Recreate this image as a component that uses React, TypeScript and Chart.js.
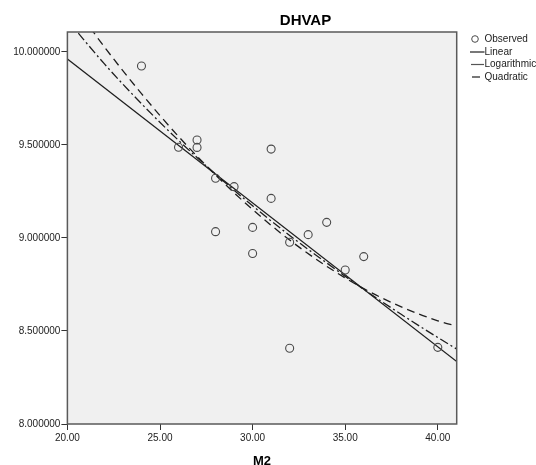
import React, { useEffect, useRef } from "react";
import { Chart, registerables } from "chart.js";

Chart.register(...registerables);

const chartTitle = "DHVAP";
const xAxisTitle = "M2";

const observedX = [24, 26, 27, 27, 28, 28, 29, 30, 30, 31, 31, 32, 32, 33, 34, 35, 36, 40];
const observedY = [9.925, 9.488, 9.527, 9.487, 9.321, 9.034, 9.276, 9.057, 8.917, 9.478, 9.213, 8.977, 8.407, 9.018, 9.084, 8.828, 8.9, 8.412];

const linearX = [20, 41.1];
const linearY = [9.962, 8.33];

const logX = [20, 22, 24, 26, 28, 30, 32, 34, 36, 38, 40, 41.1];
const logY = [10.171, 9.936, 9.722, 9.525, 9.343, 9.173, 9.014, 8.866, 8.724, 8.591, 8.465, 8.398];

const quadX = [20, 22, 24, 26, 28, 30, 32, 34, 36, 38, 40, 41.1];
const quadY = [10.301, 10.027, 9.776, 9.546, 9.339, 9.153, 8.989, 8.848, 8.728, 8.631, 8.555, 8.524];

const xTicks = [20, 25, 30, 35, 40];
const yTicks = [8.0, 8.5, 9.0, 9.5, 10.0];

const FONT = "'Liberation Sans', Arial, sans-serif";

const pairs = (xs: number[], ys: number[]) => xs.map((x, i) => ({ x, y: ys[i] }));

const decorPlugin = {
  id: "decor",
  beforeDatasetsDraw(chart: any) {
    const { ctx, chartArea } = chart;
    ctx.save();
    ctx.fillStyle = "#f0f0f0";
    ctx.fillRect(chartArea.left, chartArea.top, chartArea.right - chartArea.left, chartArea.bottom - chartArea.top);
    ctx.restore();
  },
  afterDraw(chart: any) {
    const { ctx, chartArea } = chart;
    ctx.save();
    // frame
    ctx.strokeStyle = "#5a5a5a";
    ctx.lineWidth = 1.5;
    ctx.strokeRect(chartArea.left, chartArea.top, chartArea.right - chartArea.left, chartArea.bottom - chartArea.top);

    // title
    ctx.fillStyle = "#000";
    ctx.font = `bold 15px ${FONT}`;
    ctx.textAlign = "center";
    ctx.textBaseline = "alphabetic";
    ctx.fillText(chartTitle, 305.5, 25);

    // x axis title
    ctx.font = `bold 13px ${FONT}`;
    ctx.fillText(xAxisTitle, (chartArea.left + chartArea.right) / 2, 464.5);

    // legend
    const ds = chart.data.datasets;
    const rowY = [39, 52, 64.5, 77];
    ctx.font = `10px ${FONT}`;
    ctx.textAlign = "left";
    ctx.textBaseline = "middle";
    ds.forEach((d: any, i: number) => {
      const y = rowY[i];
      ctx.strokeStyle = d.borderColor;
      ctx.lineWidth = d.type === "scatter" ? 1 : 1.2;
      if (d.type === "scatter") {
        ctx.beginPath();
        ctx.arc(475, y, 3.3, 0, Math.PI * 2);
        ctx.stroke();
      } else {
        ctx.setLineDash([]);
        ctx.beginPath();
        if (d.borderDash && d.borderDash.length === 2) {
          ctx.moveTo(472, y);
          ctx.lineTo(480, y);
        } else if (d.borderDash) {
          ctx.strokeStyle = "#555";
          ctx.moveTo(471, y);
          ctx.lineTo(484, y);
        } else {
          ctx.moveTo(470, y);
          ctx.lineTo(484.5, y);
        }
        ctx.stroke();
      }
      ctx.fillStyle = "#222";
      ctx.fillText(d.label, 484.5, y);
    });
    ctx.restore();
  },
};

export default function App() {
  const ref = useRef<HTMLCanvasElement | null>(null);

  useEffect(() => {
    document.body.style.margin = "0";
    if (!ref.current) return;
    const chart = new Chart(ref.current, {
      type: "scatter",
      data: {
        datasets: [
          {
            type: "scatter",
            label: "Observed",
            data: pairs(observedX, observedY),
            pointStyle: "circle",
            pointRadius: 4,
            pointHoverRadius: 4,
            borderColor: "#4a4a4a",
            backgroundColor: "rgba(0,0,0,0)",
            borderWidth: 1.1,
          },
          {
            type: "line",
            label: "Linear",
            data: pairs(linearX, linearY),
            borderColor: "#1e1e1e",
            borderWidth: 1.3,
            pointRadius: 0,
            fill: false,
          },
          {
            type: "line",
            label: "Logarithmic",
            data: pairs(logX, logY),
            borderColor: "#1e1e1e",
            borderWidth: 1.3,
            borderDash: [9, 3, 2, 3],
            cubicInterpolationMode: "monotone",
            pointRadius: 0,
            fill: false,
          },
          {
            type: "line",
            label: "Quadratic",
            data: pairs(quadX, quadY),
            borderColor: "#1e1e1e",
            borderWidth: 1.3,
            borderDash: [8, 5],
            cubicInterpolationMode: "monotone",
            pointRadius: 0,
            fill: false,
          },
        ] as any,
      },
      plugins: [decorPlugin],
      options: {
        animation: false,
        responsive: false,
        maintainAspectRatio: false,
        layout: { padding: { top: 32, right: 79.3, left: 0, bottom: 0 } },
        plugins: {
          legend: { display: false },
          title: { display: false },
          tooltip: { enabled: false },
        },
        scales: {
          x: {
            type: "linear",
            min: 20,
            max: 41.02,
            afterBuildTicks: (s: any) => {
              s.ticks = xTicks.map((v) => ({ value: v }));
            },
            afterFit: (s: any) => {
              s.height = 41;
            },
            ticks: {
              callback: (v: any) => Number(v).toFixed(2),
              font: { family: FONT, size: 10 },
              color: "#222",
              padding: 2,
              maxRotation: 0,
              autoSkip: false,
            },
            grid: { drawOnChartArea: false, drawTicks: true, tickLength: 6, color: "#333", lineWidth: 1 },
            border: { display: false },
          },
          y: {
            type: "linear",
            min: 8.0,
            max: 10.1075,
            afterBuildTicks: (s: any) => {
              s.ticks = yTicks.map((v) => ({ value: v }));
            },
            afterFit: (s: any) => {
              s.width = 67.4;
            },
            ticks: {
              callback: (v: any) => Number(v).toFixed(6),
              font: { family: FONT, size: 10 },
              color: "#222",
              padding: 1,
              autoSkip: false,
            },
            grid: { drawOnChartArea: false, drawTicks: true, tickLength: 6, color: "#333", lineWidth: 1 },
            border: { display: false },
          },
        },
      } as any,
    });
    return () => chart.destroy();
  }, []);

  return (
    <div style={{ width: 536, height: 465, background: "#fff" }}>
      <canvas ref={ref} width={536} height={465} style={{ display: "block", width: 536, height: 465 }} />
    </div>
  );
}
